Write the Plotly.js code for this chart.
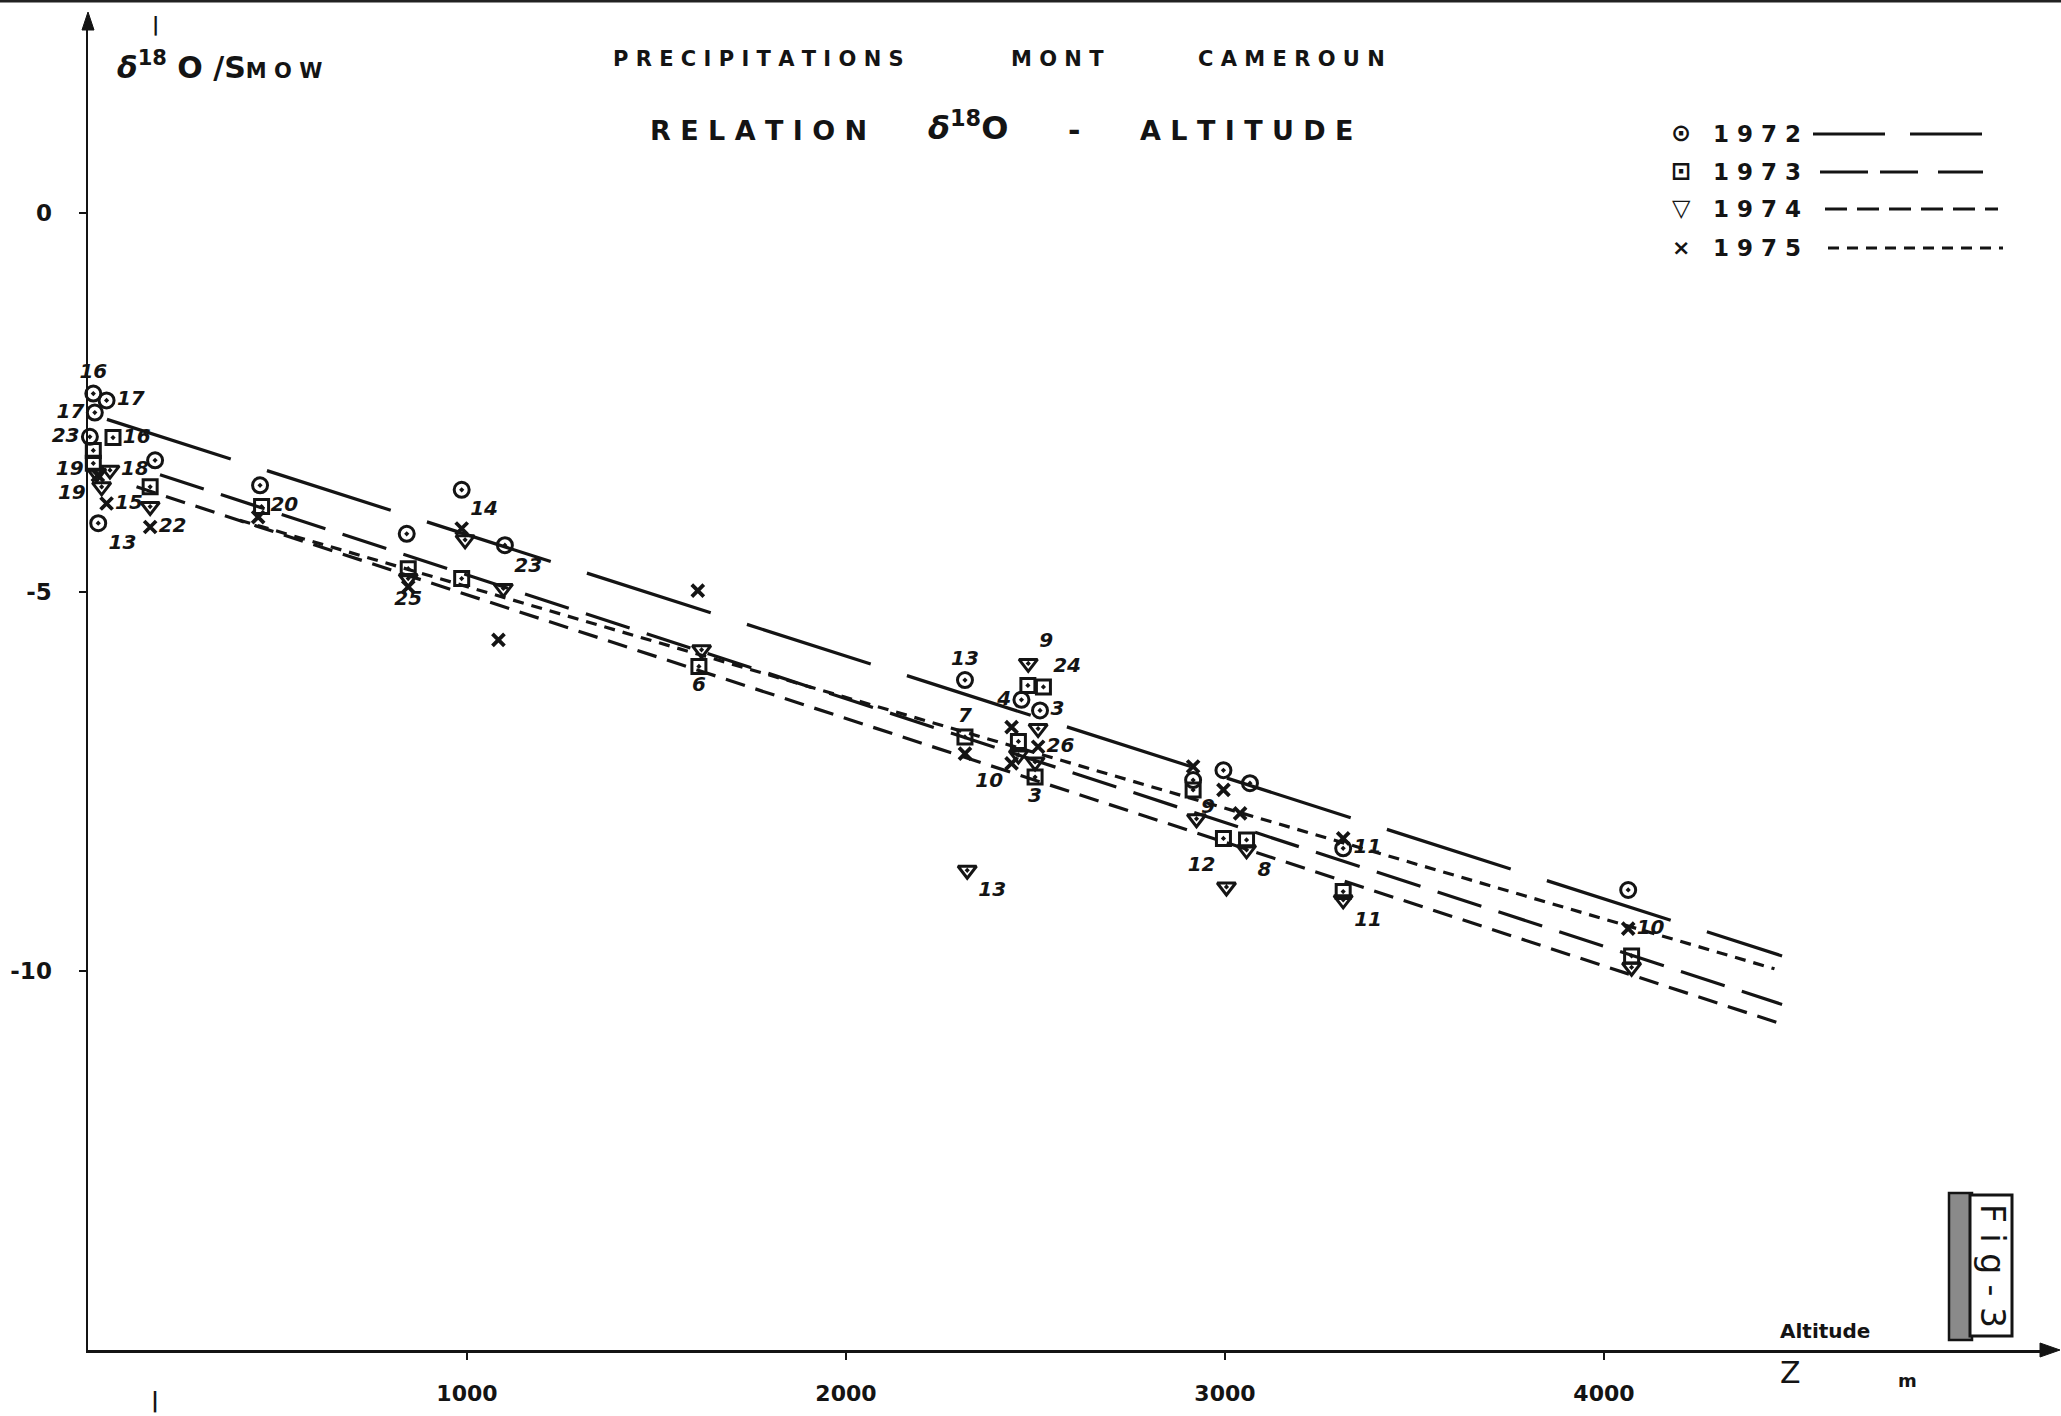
<!DOCTYPE html>
<html><head><meta charset="utf-8">
<script src="https://cdn.plot.ly/plotly-3.0.1.min.js"></script>
<style>html,body{margin:0;padding:0;background:#fff}</style>
</head><body><div id="chart" style="width:2061px;height:1416px"></div>
<script>
// ---------------- DATA ----------------
const years = ['1972', '1973', '1974', '1975'];

// 1972 (circles)
const z1972 = [14, 49, 18, 5, 27, 177, 454, 841, 986, 1100, 2314, 2463, 2512, 2916, 2996, 3066, 3312, 4064];
const d1972 = [-2.38, -2.47, -2.63, -2.95, -4.09, -3.26, -3.59, -4.23, -3.65, -4.38, -6.16, -6.42, -6.56, -7.48, -7.35, -7.52, -8.38, -8.93];
const lab1972 = ['16', '17', '17', '23', '13', '', '20', '', '', '', '13', '4', '3', '', '', '', '11', ''];

// 1973 (squares)
const z1973 = [66, 14, 14, 164, 458, 845, 986, 1612, 2314, 2480, 2521, 2455, 2499, 2916, 2996, 3057, 3312, 4073];
const d1973 = [-2.96, -3.13, -3.30, -3.61, -3.87, -4.69, -4.82, -5.98, -6.91, -6.23, -6.25, -6.97, -7.44, -7.61, -8.25, -8.27, -8.95, -9.80];
const lab1973 = ['16', '19', '', '', '', '', '', '6', '7', '', '24', '', '3', '', '', '', '', ''];

// 1974 (triangles)
const z1974 = [23, 58, 36, 164, 995, 845, 1096, 1619, 2481, 2507, 2455, 2499, 2320, 2925, 3057, 3004, 3312, 4073];
const d1974 = [-3.43, -3.39, -3.61, -3.87, -4.31, -4.82, -4.95, -5.76, -5.94, -6.80, -7.15, -7.24, -8.67, -7.99, -8.40, -8.89, -9.06, -9.95];
const lab1974 = ['19', '18', '', '', '', '25', '23', '', '9', '', '', '', '13', '', '8', '12', '11', ''];

// 1975 (crosses)
const z1975 = [26, 49, 164, 449, 986, 845, 1083, 1609, 2437, 2314, 2507, 2437, 2916, 2996, 3040, 3312, 4064];
const d1975 = [-3.46, -3.83, -4.14, -4.01, -4.16, -4.93, -5.63, -4.98, -6.78, -7.13, -7.04, -7.26, -7.30, -7.61, -7.92, -8.25, -9.44];
const lab1975 = ['', '15', '22', '', '14', '', '', '', '', '', '26', '10', '', '9', '', '', '10'];

// Regression lines (end points)
const fitZ1972 = [50, 4470],  fitD1972 = [-2.72, -9.80];
const fitZ1973 = [190, 4470], fitD1973 = [-3.45, -10.44];
const fitZ1974 = [128, 4470], fitD1974 = [-3.61, -10.70];
const fitZ1975 = [400, 4450], fitD1975 = [-4.05, -9.97];

// Axis ticks
const xTickVals = [1000, 2000, 3000, 4000];
const xTickText = ['1000', '2000', '3000', '4000'];
const yTickVals = [0, -5, -10];
const yTickText = ['0', '-5', '-10'];

// ---------------- STYLE ----------------
const INK = '#141414';
const FONT = 'DejaVu Sans';
const pos1972 = ['top center','middle right','middle left','middle left','bottom right','top center','bottom right','top center','top center','top center','top center','middle left','middle right','top center','top center','top center','middle right','top center'];
const pos1973 = ['middle right','bottom left','top center','top center','top center','top center','top center','bottom center','top center','top center','top right','top center','bottom center','top center','top center','top center','top center','top center'];
const pos1974 = ['bottom left','middle right','top center','top center','top center','bottom center','top right','top center','top right','top center','top center','top center','bottom right','top center','bottom right','top left','bottom right','top center'];
const pos1975 = ['top center','middle right','middle right','top center','top right','top center','top center','top center','top center','top center','middle right','bottom left','top center','bottom left','top center','top center','middle right'];

const chartDash = {'1972':'130px,38px', '1973':'46px,18px', '1974':'20px,11px', '1975':'11px,8px'};
const legendDash = {'1972':'72px,25px', '1973':'48px,12px,38px,20px', '1974':'22px,10px', '1975':'11px,8px'};

const labelFont = {family: FONT, size: 20, color: INK, style: 'italic', weight: 'bold'};

function lineTrace(z, d, year) {
  return {x: z, y: d, type: 'scatter', mode: 'lines', hoverinfo: 'skip',
          line: {color: INK, width: 3.2, dash: chartDash[year]}, name: year};
}
function pointTrace(z, d, lab, pos, symbol, size, lw, year) {
  return {x: z, y: d, text: lab, textposition: pos, type: 'scatter', mode: 'markers+text',
          cliponaxis: false, name: year, textfont: labelFont,
          marker: {symbol: symbol, size: size, color: INK, line: {color: INK, width: lw}}};
}

const traces = [
  lineTrace(fitZ1972, fitD1972, '1972'),
  lineTrace(fitZ1973, fitD1973, '1973'),
  lineTrace(fitZ1974, fitD1974, '1974'),
  lineTrace(fitZ1975, fitD1975, '1975'),
  pointTrace(z1972, d1972, lab1972, pos1972, 'circle-open-dot', 15, 3, '1972'),
  pointTrace(z1973, d1973, lab1973, pos1973, 'square-open-dot', 14, 3, '1973'),
  pointTrace(z1974, d1974, lab1974, pos1974, 'triangle-down-open-dot', 16, 3, '1974'),
  pointTrace(z1975, d1975, lab1975, pos1975, 'x-thin-open', 12, 3.8, '1975')
];

// pixel -> paper helpers (plot area: x 88..2050, y 20..1350)
const L = 88, R = 2050, T = 20, B = 1350;
const px = x => (x - L) / (R - L);
const py = y => (B - y) / (B - T);
const spaced = s => s.split('').join(' ');

function ann(text, x, y, size, opts) {
  return Object.assign({text: text, xref: 'paper', yref: 'paper', x: px(x), y: py(y),
    showarrow: false, xanchor: 'center', yanchor: 'middle',
    font: {family: FONT, size: size, color: INK}}, opts || {});
}
const boldFont = size => ({family: FONT, size: size, color: INK, weight: 'bold'});

const annotations = [
  // titles
  ann(spaced('PRECIPITATIONS'), 758, 59, 21, {font: boldFont(21)}),
  ann(spaced('MONT'), 1057, 59, 21, {font: boldFont(21)}),
  ann(spaced('CAMEROUN'), 1291, 59, 21, {font: boldFont(21)}),
  ann('R E L A T I O N', 758, 130, 27, {font: boldFont(27)}),
  ann('<i>δ</i><sup>18</sup>O', 968, 126, 32, {font: boldFont(32)}),
  ann('-', 1074, 130, 30, {font: boldFont(30)}),
  ann('A L T I T U D E', 1247, 130, 27, {font: boldFont(27)}),
  // y axis title
  ann('<i>δ</i><sup>18</sup> O /S<span style="font-size:21px">M O W</span>', 115, 66, 30, {xanchor: 'left', font: boldFont(30)}),
  // x axis title parts
  ann('Altitude', 1825, 1331, 20, {font: boldFont(20)}),
  ann('Z', 1790, 1372, 30),
  ann('m', 1907, 1380, 18, {font: boldFont(18)}),
  // registration marks
  ann('|', 155, 24, 20, {font: boldFont(20)}),
  ann('|', 155, 1400, 22, {font: boldFont(22)}),
  // Fig-3 label
  ann('F i g - 3', 1993, 1266, 33, {textangle: 90, font: {family: FONT, size: 33, color: INK}})
];

// custom legend
const legendRows = [134, 172, 209, 248];
const legendGlyph = ['⊙', '⊡', '▽', '×'];
const legendLineX = [[1813, 1995], [1820, 1983], [1825, 1998], [1828, 2003]];
const shapes = [
  // Fig-3 tab: grey shaded strip and framed white box
  {type: 'rect', xref: 'paper', yref: 'paper', x0: px(1949), x1: px(1972), y0: py(1340), y1: py(1193),
   fillcolor: '#8a8a8a', line: {color: INK, width: 2.5}, layer: 'below'},
  {type: 'rect', xref: 'paper', yref: 'paper', x0: px(1970), x1: px(2012), y0: py(1336), y1: py(1195),
   fillcolor: '#fff', line: {color: INK, width: 3}, layer: 'below'},
  // dark scanned top edge
  {type: 'line', xref: 'paper', yref: 'paper', x0: px(0), x1: px(2061), y0: py(1), y1: py(1),
   line: {color: '#222', width: 3}},
  // axis arrowheads
  {type: 'path', xref: 'paper', yref: 'paper',
   path: `M ${px(2060)},${py(1350)} L ${px(2040)},${py(1343)} L ${px(2040)},${py(1357)} Z`,
   fillcolor: INK, line: {color: INK, width: 1}},
  {type: 'path', xref: 'paper', yref: 'paper',
   path: `M ${px(88)},${py(12)} L ${px(82)},${py(30)} L ${px(94)},${py(30)} Z`,
   fillcolor: INK, line: {color: INK, width: 1}}
];
years.forEach((yr, i) => {
  annotations.push(ann(legendGlyph[i], 1681, legendRows[i] - 1, i === 3 ? 22 : 24, {font: boldFont(i === 3 ? 22 : 24)}));
  annotations.push(ann('1 9 7 ' + yr.slice(3), 1757, legendRows[i], 23, {font: boldFont(23)}));
  shapes.push({type: 'line', xref: 'paper', yref: 'paper',
    x0: px(legendLineX[i][0]), x1: px(legendLineX[i][1]), y0: py(legendRows[i]), y1: py(legendRows[i]),
    line: {color: INK, width: 3, dash: legendDash[yr]}});
});

const layout = {
  width: 2061, height: 1416,
  margin: {l: L, r: 2061 - R, t: T, b: 1416 - B, pad: 0},
  paper_bgcolor: '#fff', plot_bgcolor: '#fff',
  showlegend: false,
  font: {family: FONT, color: INK},
  xaxis: {range: [0, 5177], showline: true, linecolor: INK, linewidth: 2.5, showgrid: false, zeroline: false,
          tickmode: 'array', tickvals: xTickVals, ticktext: xTickText, ticks: 'outside', ticklen: 7,
          tickwidth: 2, tickcolor: INK, ticklabelstandoff: 15, tickfont: {family: FONT, size: 22, color: INK, weight: 'bold'}},
  yaxis: {range: [-15, 2.55], showline: true, linecolor: INK, linewidth: 2.5, showgrid: false, zeroline: false,
          tickmode: 'array', tickvals: yTickVals, ticktext: yTickText, ticks: 'outside', ticklen: 7,
          tickwidth: 2, tickcolor: INK, ticklabelstandoff: 22, tickfont: {family: FONT, size: 23, color: INK, weight: 'bold'}},
  annotations: annotations,
  shapes: shapes
};

Plotly.newPlot('chart', traces, layout, {displayModeBar: false, staticPlot: true});
</script></body></html>
